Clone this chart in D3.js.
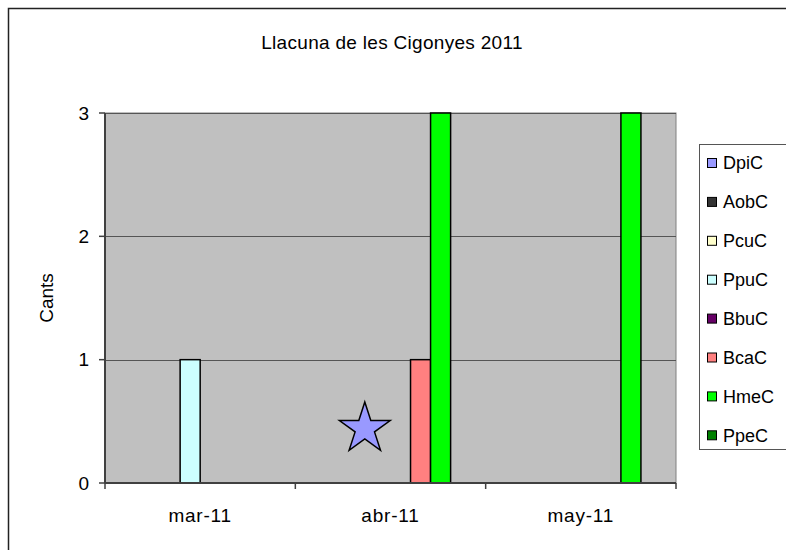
<!DOCTYPE html>
<html>
<head>
<meta charset="utf-8">
<script src="https://cdn.jsdelivr.net/npm/d3@7"></script>
<style>
  body { margin: 0; background: #fff; }
  svg { display: block; font-family: "Liberation Sans", Arial, sans-serif; }
</style>
</head>
<body>
<div id="chart"></div>
<script>
// données du graphique
const months = ["mar-11", "abr-11", "may-11"];
const species = ["DpiC", "AobC", "PcuC", "PpuC", "BbuC", "BcaC", "HmeC", "PpeC"];
const speciesColors = ["#9999FF", "#333333", "#FFFFCC", "#CCFFFF", "#660066", "#FF8080", "#00FF00", "#008000"];
const counts = {
    DpiC: [0, 0, 0],
    AobC: [0, 0, 0],
    PcuC: [0, 0, 0],
    PpuC: [1, 0, 0],
    BbuC: [0, 0, 0],
    BcaC: [0, 1, 0],
    HmeC: [0, 3, 3],
    PpeC: [0, 0, 0]
};
const yTicks = [0, 1, 2, 3];
const title = "Llacuna de les Cigonyes 2011";
const labelY = "Cants";

const width = 786;
const height = 550;
const marginTop = 113;
const marginRight = 110;
const marginBottom = 67;
const marginLeft = 105;

const svg = d3.select("#chart").append("svg")
    .attr("width", width)
    .attr("height", height)
    .attr("viewBox", [0, 0, width, height]);

// cadre extérieur (coupé à droite et en bas)
svg.append("rect")
    .attr("x", 8.5).attr("y", 8.5)
    .attr("width", width + 20).attr("height", height + 20)
    .attr("fill", "#fff")
    .attr("stroke", "#222")
    .attr("stroke-width", 1.5);

// échelles
const x0 = d3.scaleBand()
    .domain(months)
    .range([marginLeft, width - marginRight])
    .padding(0);

const x1 = d3.scaleBand()
    .domain(species)
    .range([0, x0.bandwidth()])
    .paddingInner(0)
    .paddingOuter(0.75);

const y = d3.scaleLinear()
    .domain([0, 3])
    .range([height - marginBottom, marginTop]);

const color = d3.scaleOrdinal().domain(species).range(speciesColors);

// zone de tracé grise
svg.append("rect")
    .attr("x", marginLeft)
    .attr("y", marginTop)
    .attr("width", width - marginRight - marginLeft)
    .attr("height", height - marginBottom - marginTop)
    .attr("fill", "#C0C0C0")
    .attr("stroke", "#808080")
    .attr("stroke-width", 1);

// lignes de grille
svg.append("g")
    .selectAll("line")
    .data(yTicks.slice(1))
    .join("line")
    .attr("x1", marginLeft)
    .attr("x2", width - marginRight)
    .attr("y1", d => Math.round(y(d)) + 0.5)
    .attr("y2", d => Math.round(y(d)) + 0.5)
    .attr("stroke", "#555")
    .attr("stroke-width", 1);

// barres
const groups = svg.append("g")
    .selectAll("g")
    .data(months)
    .join("g")
    .attr("transform", d => `translate(${x0(d)},0)`);

groups.selectAll("rect")
    .data((m, i) => species.map(s => ({ key: s, value: counts[s][i] })).filter(d => d.value > 0))
    .join("rect")
    .attr("x", d => x1(d.key))
    .attr("y", d => y(d.value))
    .attr("width", x1.bandwidth())
    .attr("height", d => y(0) - y(d.value))
    .attr("fill", d => color(d.key))
    .attr("stroke", "#000")
    .attr("stroke-width", 1.5);

// étoile dessinée sur le graphique
svg.append("path")
    .attr("d", d3.symbol(d3.symbolStar, 800)())
    .attr("transform", `translate(${x0("abr-11") + x0.bandwidth() * 0.365},${y(0.44)})`)
    .attr("fill", "#9999FF")
    .attr("stroke", "#000")
    .attr("stroke-width", 1.5);

// axe x
const xAxis = svg.append("g")
    .attr("transform", `translate(0,${height - marginBottom})`);
xAxis.append("line")
    .attr("x1", marginLeft).attr("x2", width - marginRight)
    .attr("stroke", "#404040").attr("stroke-width", 2);
xAxis.selectAll(".tick")
    .data(months.concat([null]))
    .join("line")
    .attr("x1", (d, i) => marginLeft + i * x0.bandwidth())
    .attr("x2", (d, i) => marginLeft + i * x0.bandwidth())
    .attr("y1", 0).attr("y2", 6)
    .attr("stroke", "#404040").attr("stroke-width", 1.5);
xAxis.selectAll("text")
    .data(months)
    .join("text")
    .attr("x", d => x0(d) + x0.bandwidth() / 2)
    .attr("y", 39)
    .attr("text-anchor", "middle")
    .attr("font-size", 19)
    .attr("letter-spacing", 0.8)
    .attr("fill", "#000")
    .text(d => d);

// axe y
const yAxis = svg.append("g")
    .attr("transform", `translate(${marginLeft},0)`);
yAxis.append("line")
    .attr("y1", marginTop).attr("y2", height - marginBottom)
    .attr("stroke", "#404040").attr("stroke-width", 2);
yAxis.selectAll(".tick")
    .data(yTicks)
    .join("line")
    .attr("x1", -6).attr("x2", 0)
    .attr("y1", d => y(d)).attr("y2", d => y(d))
    .attr("stroke", "#404040").attr("stroke-width", 1.5);
yAxis.selectAll("text")
    .data(yTicks)
    .join("text")
    .attr("x", -16)
    .attr("y", d => y(d))
    .attr("dy", "0.35em")
    .attr("text-anchor", "end")
    .attr("font-size", 19)
    .attr("fill", "#000")
    .text(d => d);

// titre de l'axe y
svg.append("text")
    .attr("transform", `translate(53,${(marginTop + height - marginBottom) / 2}) rotate(-90)`)
    .attr("text-anchor", "middle")
    .attr("font-size", 19)
    .attr("fill", "#000")
    .text(labelY);

// titre
svg.append("text")
    .attr("x", 392)
    .attr("y", 49)
    .attr("text-anchor", "middle")
    .attr("font-size", 19)
    .attr("letter-spacing", 0.3)
    .attr("fill", "#000")
    .text(title);

// légende
const legend = svg.append("g")
    .attr("transform", `translate(699,144)`);
legend.append("rect")
    .attr("x", 0.5).attr("y", 0.5)
    .attr("width", 120).attr("height", 305)
    .attr("fill", "#fff")
    .attr("stroke", "#555")
    .attr("stroke-width", 1);

const legends = legend.selectAll(".legend")
    .data(species)
    .join("g")
    .attr("class", "legend")
    .attr("transform", (d, i) => `translate(0,${19 + i * 38.9})`);

legends.append("rect")
    .attr("x", 8.5)
    .attr("y", -4.5)
    .attr("width", 9)
    .attr("height", 9)
    .attr("fill", d => color(d))
    .attr("stroke", "#000")
    .attr("stroke-width", 1);

legends.append("text")
    .attr("x", 24)
    .attr("y", 0)
    .attr("dy", "0.35em")
    .attr("font-size", 18)
    .attr("fill", "#000")
    .text(d => d);
</script>
</body>
</html>
